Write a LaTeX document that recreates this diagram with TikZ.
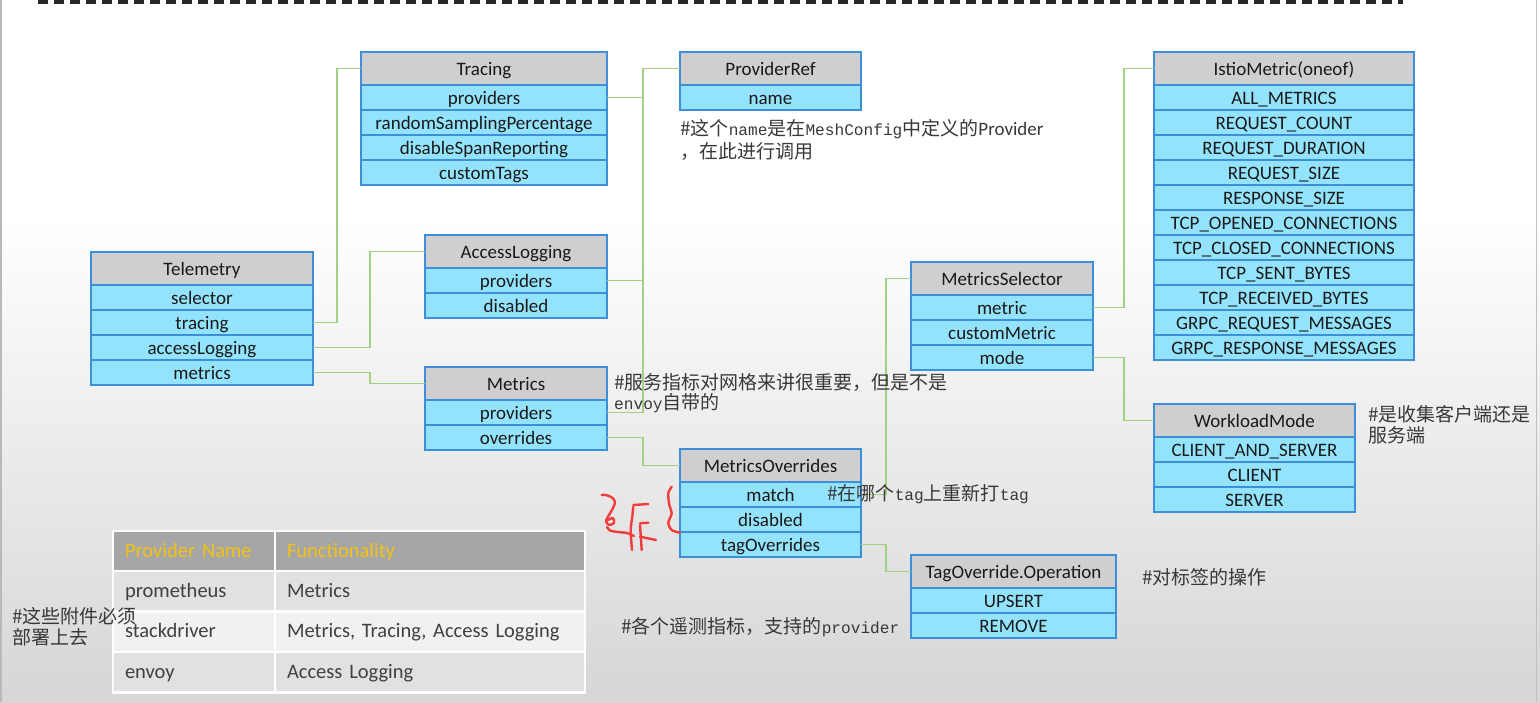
\documentclass[tikz,border=0pt]{standalone}
\usepackage{fontspec}
\setmainfont{Carlito}
\newfontfamily\cjk{Noto Sans CJK SC}
\newfontfamily\notemono[Scale=0.85]{Liberation Mono}
\newcommand\notelatin[1]{{\notemono #1}}
\usetikzlibrary{positioning}

\definecolor{boxblue}{HTML}{3D8FD8}
\definecolor{headgrey}{HTML}{D0CECE}
\definecolor{rowcyan}{HTML}{94E3FC}
\definecolor{linkgreen}{HTML}{A3D183}
\definecolor{notegrey}{HTML}{383838}
\definecolor{bggrey}{HTML}{D6D6D6}
\definecolor{tblhead}{HTML}{A6A6A6}
\definecolor{tblgold}{HTML}{F2C314}
\definecolor{tbldark}{HTML}{E1E1E1}
\definecolor{tbllight}{HTML}{F1F1F1}
\definecolor{tbltext}{HTML}{404040}
\definecolor{penred}{HTML}{F03C3C}

\begin{document}
\begin{tikzpicture}[x=1pt,y=-1pt,
    box/.style={draw=boxblue, line width=1.5pt, outer sep=0pt, inner sep=2pt,
      minimum height=25pt, text height=15pt, text depth=2pt,
      font=\fontsize{19}{22}\selectfont, text=black!90},
    classhead/.style={box, fill=headgrey, minimum width=#1, minimum height=33pt},
    classrow/.style={box, fill=rowcyan, minimum width=#1},
    note/.style={font=\cjk\fontsize{19}{21}\selectfont, text=notegrey,
      inner sep=0pt, align=left, anchor=west},
    link/.style={every edge/.style={draw=linkgreen, line width=1.5pt}},
    elbow/.style={to path={-- ++(#1,0) |- (\tikztotarget)}},
    tcell/.style={draw=white, line width=2.5pt, outer sep=0pt, inner xsep=12pt,
      inner ysep=0pt, text width=#1, align=left, text height=16pt, text depth=4pt,
      font=\fontsize{20.5}{24}\selectfont, text=tbltext},
    scribble/.style={draw=penred, line width=2.4pt, line cap=round, line join=round}]

    \useasboundingbox (0,0) rectangle (1540,702);

    % Background
    \fill[white] (0,0) rectangle (1540,220);
    \shade[top color=white, bottom color=bggrey] (0,220) rectangle (1540,702);
    \draw[gray!55, line width=1.5pt] (0.75,0) -- (0.75,702);
    \draw[gray!50, line width=1pt] (1536,0) -- (1536,702);
    \draw[black!85, line width=3.5pt, dash pattern=on 10pt off 6pt] (38,1.75) -- (1403,1.75);

    % Telemetry
    \node[classhead=222pt, anchor=north west] (tel) at (91,252) {Telemetry};
    \node[classrow=222pt, below=0pt of tel] (tel-selector) {selector};
    \node[classrow=222pt, below=0pt of tel-selector] (tel-tracing) {tracing};
    \node[classrow=222pt, below=0pt of tel-tracing] (tel-access) {accessLogging};
    \node[classrow=222pt, below=0pt of tel-access] (tel-metrics) {metrics};

    % Tracing
    \node[classhead=246pt, anchor=north west] (tracing) at (361,52) {Tracing};
    \node[classrow=246pt, below=0pt of tracing] (tracing-prov) {providers};
    \node[classrow=246pt, below=0pt of tracing-prov] (tracing-rate) {randomSamplingPercentage};
    \node[classrow=246pt, below=0pt of tracing-rate] (tracing-span) {disableSpanReporting};
    \node[classrow=246pt, below=0pt of tracing-span] (tracing-tags) {customTags};

    % AccessLogging
    \node[classhead=182pt, anchor=north west] (access) at (425,235) {AccessLogging};
    \node[classrow=182pt, below=0pt of access] (access-prov) {providers};
    \node[classrow=182pt, below=0pt of access-prov] (access-off) {disabled};

    % Metrics
    \node[classhead=182pt, anchor=north west] (metrics) at (425,367) {Metrics};
    \node[classrow=182pt, below=0pt of metrics] (metrics-prov) {providers};
    \node[classrow=182pt, below=0pt of metrics-prov] (metrics-over) {overrides};

    % ProviderRef
    \node[classhead=181pt, anchor=north west] (provref) at (680,52) {ProviderRef};
    \node[classrow=181pt, below=0pt of provref] (provref-name) {name};

    % MetricsOverrides
    \node[classhead=181pt, anchor=north west] (movr) at (680,449) {MetricsOverrides};
    \node[classrow=181pt, below=0pt of movr] (movr-match) {match};
    \node[classrow=181pt, below=0pt of movr-match] (movr-off) {disabled};
    \node[classrow=181pt, below=0pt of movr-off] (movr-tag) {tagOverrides};

    % MetricsSelector
    \node[classhead=182pt, anchor=north west] (msel) at (911,262) {MetricsSelector};
    \node[classrow=182pt, below=0pt of msel] (msel-metric) {metric};
    \node[classrow=182pt, below=0pt of msel-metric] (msel-custom) {customMetric};
    \node[classrow=182pt, below=0pt of msel-custom] (msel-mode) {mode};

    % TagOverride.Operation
    \node[classhead=205pt, anchor=north west] (tagop) at (911,555) {TagOverride.Operation};
    \node[classrow=205pt, below=0pt of tagop] (tagop-upsert) {UPSERT};
    \node[classrow=205pt, below=0pt of tagop-upsert] (tagop-remove) {REMOVE};

    % IstioMetric
    \node[classhead=260pt, anchor=north west] (istio) at (1154,52) {IstioMetric(oneof)};
    \node[classrow=260pt, below=0pt of istio] (istio-all) {ALL\_METRICS};
    \node[classrow=260pt, below=0pt of istio-all] (istio-rcount) {REQUEST\_COUNT};
    \node[classrow=260pt, below=0pt of istio-rcount] (istio-rdur) {REQUEST\_DURATION};
    \node[classrow=260pt, below=0pt of istio-rdur] (istio-rsize) {REQUEST\_SIZE};
    \node[classrow=260pt, below=0pt of istio-rsize] (istio-ssize) {RESPONSE\_SIZE};
    \node[classrow=260pt, below=0pt of istio-ssize] (istio-tcpopen) {TCP\_OPENED\_CONNECTIONS};
    \node[classrow=260pt, below=0pt of istio-tcpopen] (istio-tcpclose) {TCP\_CLOSED\_CONNECTIONS};
    \node[classrow=260pt, below=0pt of istio-tcpclose] (istio-tcpsent) {TCP\_SENT\_BYTES};
    \node[classrow=260pt, below=0pt of istio-tcpsent] (istio-tcprecv) {TCP\_RECEIVED\_BYTES};
    \node[classrow=260pt, below=0pt of istio-tcprecv] (istio-grpcreq) {GRPC\_REQUEST\_MESSAGES};
    \node[classrow=260pt, below=0pt of istio-grpcreq] (istio-grpcresp) {GRPC\_RESPONSE\_MESSAGES};

    % WorkloadMode
    \node[classhead=201pt, anchor=north west] (wmode) at (1154,404) {WorkloadMode};
    \node[classrow=201pt, below=0pt of wmode] (wmode-both) {CLIENT\_AND\_SERVER};
    \node[classrow=201pt, below=0pt of wmode-both] (wmode-client) {CLIENT};
    \node[classrow=201pt, below=0pt of wmode-client] (wmode-server) {SERVER};

    % Draw links
    \path[link]
        (tel-tracing.east) edge[elbow=24] (tracing.west)
        (tel-access.east) edge[elbow=57] (access.west)
        (tel-metrics.east) edge[elbow=57] (metrics.west)
        (tracing-prov.east) edge[elbow=36] (provref.west)
        (access-prov.east) edge[elbow=36] (provref.west)
        (metrics-prov.east) edge[elbow=36] (provref.west)
        (metrics-over.east) edge[elbow=36] (movr.west)
        (movr-match.east) edge[elbow=25] (msel.west)
        (movr-tag.east) edge[elbow=25] (tagop.west)
        (msel-metric.east) edge[elbow=31] (istio.west)
        (msel-mode.east) edge[elbow=31] (wmode.west);

    % Provider table
    \node[tcell=138pt, fill=tblhead, text=tblgold, minimum height=40pt, anchor=north west] (tbl-name) at (113,531) {Provider Name};
    \node[tcell=286pt, fill=tblhead, text=tblgold, minimum height=40pt, anchor=north west] (tbl-func) at (tbl-name.north east) {Functionality};
    \node[tcell=138pt, fill=tbldark, minimum height=40.5pt, below=0pt of tbl-name] (tbl-prom) {prometheus};
    \node[tcell=286pt, fill=tbldark, minimum height=40.5pt, below=0pt of tbl-func] (tbl-prom-f) {Metrics};
    \node[tcell=138pt, fill=tbllight, minimum height=40.5pt, below=0pt of tbl-prom] (tbl-sd) {stackdriver};
    \node[tcell=286pt, fill=tbllight, minimum height=40.5pt, below=0pt of tbl-prom-f] (tbl-sd-f) {Metrics, Tracing, Access Logging};
    \node[tcell=138pt, fill=tbldark, minimum height=40.5pt, below=0pt of tbl-sd] (tbl-envoy) {envoy};
    \node[tcell=286pt, fill=tbldark, minimum height=40.5pt, below=0pt of tbl-sd-f] (tbl-envoy-f) {Access Logging};

    % Red pen marks
    \draw[scribble] plot[smooth] coordinates {(601.7,495) (606,495) (612,497.5) (615,502) (613,508) (609,515)};
    \draw[scribble] plot[smooth] coordinates {(609,515) (606,521) (609,525) (614,523) (613,518) (608,520)};
    \draw[scribble] plot[smooth] coordinates {(607,527) (610,530.5) (618,532) (627,533) (634,536)};
    \draw[scribble] (633.3,505) -- (648.3,504);
    \draw[scribble] plot[smooth] coordinates {(633.3,506.7) (632.3,516.7) (630.7,530) (632,550)};
    \draw[scribble] (640,523.3) -- (648.3,522.7);
    \draw[scribble] (640,525) -- (641.7,550);
    \draw[scribble] (640,536.7) -- (656,540);
    \draw[scribble] plot[smooth] coordinates {(671.7,486.7) (668.3,493.3) (669.3,505) (671.7,513.3) (668.3,522.7) (671.7,530) (680,532.7)};

    % Notes
    \node[note, font=\cjk\fontsize{19}{22.5}\selectfont] (note-provref) at (680,140)
        {\#这个\notelatin{name}是在\notelatin{MeshConfig}中定义的{\rmfamily Provider}\\，在此进行调用};
    \node[note, font=\cjk\fontsize{19}{20}\selectfont] (note-metrics) at (614,393)
        {\#服务指标对网格来讲很重要，但是不是\\\notelatin{envoy}自带的};
    \node[note] (note-match) at (827,494) {\#在哪个\notelatin{tag}上重新打\notelatin{tag}};
    \node[note] (note-wmode) at (1368,425) {\#是收集客户端还是\\服务端};
    \node[note] (note-tagop) at (1142,577) {\#对标签的操作};
    \node[note] (note-providers) at (621,627) {\#各个遥测指标，支持的\notelatin{provider}};
    \node[note] (note-addons) at (12,627) {\#这些附件必须\\部署上去};

\end{tikzpicture}
\end{document}
